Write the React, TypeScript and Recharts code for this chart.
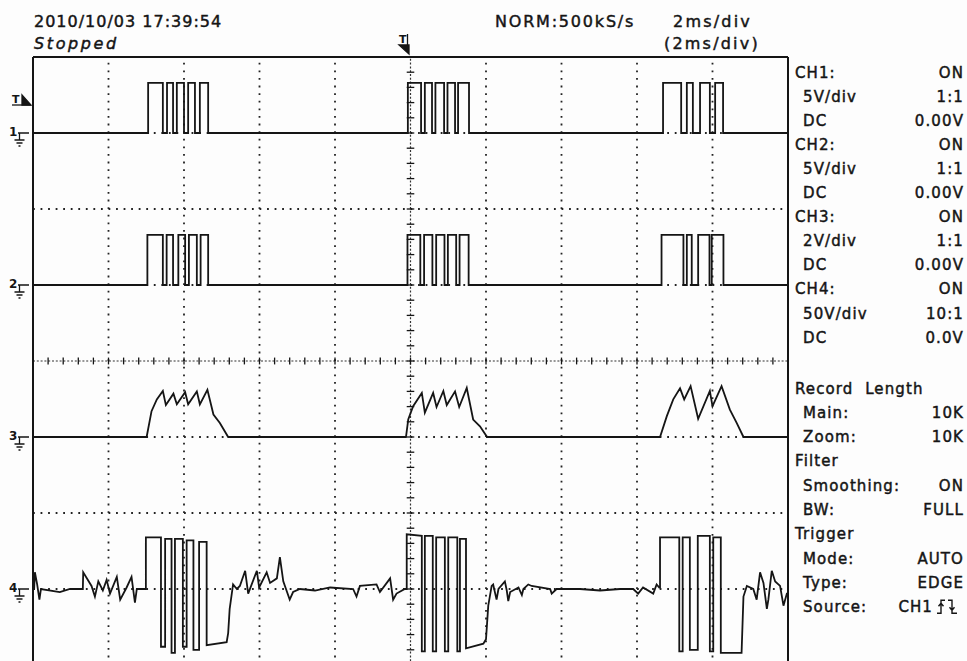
import { LineChart, Line, XAxis, YAxis, ReferenceLine } from "recharts";

// time in ms (2 ms/div, trigger at 0), level in volts
const ch1Trace: [number, number][] = [
  [-10, 0],
  [-6.95, 3.3], [-6.56, 0], [-6.45, 3.3], [-6.29, 0], [-6.19, 3.3], [-6.0, 0], [-5.89, 3.3], [-5.71, 0], [-5.58, 3.3], [-5.36, 0],
  [-0.07, 3.3], [0.28, 0], [0.38, 3.3], [0.57, 0], [0.66, 3.3], [0.89, 0], [0.98, 3.3], [1.18, 0], [1.26, 3.3], [1.55, 0],
  [6.69, 3.3], [7.17, 0], [7.32, 3.3], [7.48, 0], [7.67, 3.3], [7.93, 0], [8.07, 3.3], [8.28, 0],
  [10, 0],
];

const ch2Trace: [number, number][] = [
  [-10, 0],
  [-6.97, 3.3], [-6.56, 0], [-6.46, 3.3], [-6.29, 0], [-6.15, 3.3], [-5.97, 0], [-5.87, 3.3], [-5.66, 0], [-5.56, 3.3], [-5.36, 0],
  [-0.08, 3.3], [0.26, 0], [0.36, 3.3], [0.58, 0], [0.68, 3.3], [0.9, 0], [0.99, 3.3], [1.21, 0], [1.3, 3.3], [1.54, 0],
  [6.65, 3.3], [7.23, 0], [7.32, 3.3], [7.45, 0], [7.62, 3.3], [7.92, 0], [7.98, 3.3], [8.29, 0],
  [10, 0],
];

const ch3Trace: [number, number][] = [
  [-10, 0], [-6.99, 0], [-6.86, 0.68], [-6.72, 0.99], [-6.56, 1.21], [-6.48, 0.84], [-6.28, 1.14], [-6.19, 0.86],
  [-5.97, 1.18], [-5.89, 0.86], [-5.66, 1.2], [-5.58, 0.86], [-5.38, 1.24], [-5.22, 0.59], [-5.05, 0.37], [-4.83, 0],
  [-0.12, 0], [-0.06, 0.46], [0.07, 0.81], [0.3, 1.16], [0.38, 0.64], [0.6, 1.16], [0.69, 0.79], [0.87, 1.21],
  [0.96, 0.84], [1.18, 1.2], [1.29, 0.79], [1.49, 1.29], [1.66, 0.46], [1.84, 0.28], [2.03, 0],
  [6.61, 0], [6.79, 0.55], [6.96, 0.99], [7.14, 1.28], [7.25, 0.99], [7.42, 1.34], [7.62, 0.48], [7.93, 1.21],
  [8.0, 0.81], [8.24, 1.34], [8.46, 0.72], [8.64, 0.37], [8.82, 0],
  [10, 0],
];

const ch4Trace: [number, number][] = [
  [-10, 0], [-9.97, 0], [-9.95, 11], [-9.89, 3], [-9.83, -7], [-9.79, 0], [-9.29, -2], [-9.02, 0],
  [-8.68, 0], [-8.67, 11], [-8.45, 2], [-8.36, -5], [-8.27, 5], [-8.15, -1], [-8.05, 6], [-7.96, -3],
  [-7.78, 8], [-7.69, -7], [-7.52, 1], [-7.39, 8], [-7.3, -9], [-7.25, 0], [-7.01, 0],
  [-7.01, 34], [-6.61, 34], [-6.61, -38], [-6.5, -38], [-6.5, 33], [-6.33, 33], [-6.33, -42],
  [-6.24, -42], [-6.24, 33], [-6.03, 33], [-6.03, -38], [-5.93, -38], [-5.93, 32], [-5.75, 32],
  [-5.75, -40], [-5.6, -40], [-5.6, 31], [-5.4, 31], [-5.4, -37], [-4.87, -35],
  [-4.83, -29], [-4.79, -13], [-4.7, 3], [-4.6, 0], [-4.52, 2], [-4.38, 12], [-4.3, -3],
  [-4.07, 12], [-4.01, 1], [-3.81, 11], [-3.72, 4], [-3.54, 7], [-3.46, 21], [-3.37, 5],
  [-3.2, -7], [-3.11, -2], [-2.93, 0], [-2.53, -1], [-2.13, 1], [-1.52, 0], [-1.43, -5],
  [-1.34, 2], [-0.9, 3], [-0.81, -2], [-0.54, 7], [-0.46, -7], [-0.37, -3], [-0.15, 0],
  [-0.1, 0], [-0.1, 36], [0.3, 35], [0.3, -41], [0.38, -41], [0.38, 35], [0.59, 35], [0.59, -41],
  [0.68, -41], [0.68, 34], [0.91, 34], [0.91, -41], [1.0, -41], [1.0, 34], [1.24, 34], [1.24, -41],
  [1.31, -41], [1.31, 33], [1.47, 33], [1.47, -39], [1.93, -36], [2.0, -33], [2.06, -11],
  [2.15, 2], [2.19, 3], [2.28, -7], [2.33, 0], [2.5, 5], [2.55, -1], [2.59, -8], [2.64, -2],
  [2.86, 1], [2.95, -4], [2.99, 0], [3.12, 3], [3.21, 2], [3.7, 0], [3.74, -3], [3.87, 0],
  [4.49, 0], [5.02, -1], [5.55, 0], [5.9, 0], [6.03, -3], [6.16, 1], [6.43, -3], [6.52, 3], [6.59, 1],
  [6.61, 1], [6.61, 34], [7.12, 34], [7.12, -41], [7.21, -41], [7.21, 34], [7.4, 34], [7.4, -40],
  [7.61, -40], [7.61, 35], [7.93, 35], [7.93, -41], [8.02, -41], [8.02, 34], [8.22, 34], [8.22, -42],
  [8.77, -42], [8.82, -5], [8.91, 2], [9.08, 0], [9.17, -7], [9.26, 11], [9.35, 4], [9.44, -13],
  [9.48, -7], [9.57, 12], [9.66, 5], [9.79, 2], [9.88, -11], [9.97, -3], [10, -3],
];

const channels = [
  { id: "ch1", label: "1", voltsPerDiv: 5, groundDiv: 7, trace: ch1Trace, curve: "stepAfter" },
  { id: "ch2", label: "2", voltsPerDiv: 5, groundDiv: 5, trace: ch2Trace, curve: "stepAfter" },
  { id: "ch3", label: "3", voltsPerDiv: 2, groundDiv: 3, trace: ch3Trace, curve: "linear" },
  { id: "ch4", label: "4", voltsPerDiv: 50, groundDiv: 1, trace: ch4Trace, curve: "linear" },
];

const gridTimes = [-8, -6, -4, -2, 2, 4, 6, 8];
const gridDivs = [1, 2, 3, 5, 6, 7];

const headerDate = "2010/10/03 17:39:54";
const headerState = "Stopped";
const headerRate = "NORM:500kS/s";
const headerScale = "2ms/div";
const headerZoom = "(2ms/div)";

const channelSetup = [
  { label: "CH1:", value: "ON", indent: false },
  { label: "5V/div", value: "1:1", indent: true },
  { label: "DC", value: "0.00V", indent: true },
  { label: "CH2:", value: "ON", indent: false },
  { label: "5V/div", value: "1:1", indent: true },
  { label: "DC", value: "0.00V", indent: true },
  { label: "CH3:", value: "ON", indent: false },
  { label: "2V/div", value: "1:1", indent: true },
  { label: "DC", value: "0.00V", indent: true },
  { label: "CH4:", value: "ON", indent: false },
  { label: "50V/div", value: "10:1", indent: true },
  { label: "DC", value: "0.0V", indent: true },
];

const acquisitionSetup = [
  { label: "Record  Length", value: "", indent: false },
  { label: "Main:", value: "10K", indent: true },
  { label: "Zoom:", value: "10K", indent: true },
  { label: "Filter", value: "", indent: false },
  { label: "Smoothing:", value: "ON", indent: true },
  { label: "BW:", value: "FULL", indent: true },
  { label: "Trigger", value: "", indent: false },
  { label: "Mode:", value: "AUTO", indent: true },
  { label: "Type:", value: "EDGE", indent: true },
  { label: "Source:", value: "CH1", indent: true },
];

const INK = "#151515";
const PLOT_TOP = 57;
const DIV_PX = 76;

const toPoints = (trace: [number, number][]) => trace.map(([t, v]) => ({ t, v }));

function GroundMark({ label, y }: { label: string; y: number }) {
  return (
    <g stroke={INK} strokeWidth={1.3} fill="none">
      <text x={9} y={y + 3} fontSize={12} fontWeight="bold" fill={INK} stroke="none">{label}</text>
      <path d={`M18,${y} H29 M19.5,${y} V${y + 7} M14.5,${y + 7} H24.5 M16.5,${y + 10} H22.5 M18.5,${y + 13} H20.5`} />
    </g>
  );
}

function SetupRows({ rows, startY, step }: { rows: typeof channelSetup; startY: number; step: number }) {
  return (
    <g fill={INK} stroke={INK} strokeWidth={0.45} fontSize={15} style={{ letterSpacing: 1.1 }}>
      {rows.map((r, i) => {
        const y = startY + i * step + 5.5;
        return (
          <g key={i}>
            <text x={r.indent ? 803 : 795} y={y} style={{ whiteSpace: "pre" }}>{r.label}</text>
            {r.value && r.label !== "Source:" && (
              <text x={964} y={y} textAnchor="end">{r.value}</text>
            )}
            {r.label === "Source:" && (
              <g>
                <text x={933} y={y} textAnchor="end">{r.value}</text>
                <path
                  d={`M937,${y + 1} H941 V${y - 12} H945 M941,${y - 9} l-2.5,3 M941,${y - 9} l2.5,3 M948,${y - 12} H952 V${y + 1} H957 M952,${y - 2} l-2.5,-3 M952,${y - 2} l2.5,-3`}
                  stroke={INK}
                  strokeWidth={1.4}
                  fill="none"
                />
              </g>
            )}
          </g>
        );
      })}
    </g>
  );
}

export default function App() {
  const hTicks = Array.from({ length: 51 }, (_, k) => -10 + k * 0.4);
  const vTicks = Array.from({ length: 41 }, (_, k) => k * 0.2);
  return (
    <div
      style={{
        position: "absolute",
        left: 0,
        top: 0,
        width: 967,
        height: 661,
        overflow: "hidden",
        background: "#fdfdfd",
        fontFamily: "'DejaVu Sans', sans-serif",
      }}
    >
      <LineChart width={967} height={700} margin={{ top: 57, right: 179, bottom: 35, left: 33 }}>
        <XAxis type="number" dataKey="t" domain={[-10, 10]} allowDataOverflow hide />
        <YAxis yAxisId="div" type="number" domain={[0, 8]} allowDataOverflow hide />
        {channels.map((c) => (
          <YAxis
            key={c.id}
            yAxisId={c.id}
            type="number"
            domain={[-c.groundDiv * c.voltsPerDiv, (8 - c.groundDiv) * c.voltsPerDiv]}
            allowDataOverflow
            hide
          />
        ))}

        {gridTimes.map((t) => (
          <ReferenceLine key={"gx" + t} yAxisId="div" x={t} stroke="#222" strokeWidth={1.8} strokeDasharray="1.8 5.8" />
        ))}
        {gridDivs.map((d) => (
          <ReferenceLine key={"gy" + d} yAxisId="div" y={d} stroke="#222" strokeWidth={1.8} strokeDasharray="1.8 5.75" />
        ))}
        <ReferenceLine yAxisId="div" x={0} stroke="#333" strokeWidth={1.2} strokeDasharray="2 1.8" />
        <ReferenceLine yAxisId="div" y={4} stroke="#333" strokeWidth={1.2} strokeDasharray="2 1.8" />
        {hTicks.map((t) => (
          <ReferenceLine
            key={"ht" + t}
            yAxisId="div"
            segment={[{ x: t, y: 3.955 }, { x: t, y: 4.045 }]}
            stroke={INK}
            strokeWidth={1.3}
          />
        ))}
        {vTicks.map((d) => (
          <ReferenceLine
            key={"vt" + d}
            yAxisId="div"
            segment={[{ x: -0.1, y: d }, { x: 0.1, y: d }]}
            stroke={INK}
            strokeWidth={1.3}
          />
        ))}

        {channels.map((c) => (
          <Line
            key={c.id}
            yAxisId={c.id}
            data={toPoints(c.trace)}
            dataKey="v"
            type={c.curve as any}
            stroke={INK}
            strokeWidth={1.8}
            dot={false}
            activeDot={false}
            isAnimationActive={false}
          />
        ))}

        <ReferenceLine yAxisId="div" x={-10} stroke={INK} strokeWidth={2} />
        <ReferenceLine yAxisId="div" x={10} stroke={INK} strokeWidth={2} />
        <ReferenceLine yAxisId="div" y={8} stroke={INK} strokeWidth={2} />
      </LineChart>

      <svg
        width={967}
        height={661}
        style={{ position: "absolute", left: 0, top: 0, pointerEvents: "none" }}
        fontFamily="'DejaVu Sans', sans-serif"
      >
        <g fill={INK} stroke={INK} strokeWidth={0.45} fontSize={16}>
          <text x={34} y={27} style={{ letterSpacing: 1 }}>{headerDate}</text>
          <text x={34} y={49} fontStyle="italic" style={{ letterSpacing: 2.6 }}>{headerState}</text>
          <text x={495} y={27} style={{ letterSpacing: 1.8 }}>{headerRate}</text>
          <text x={673} y={27} style={{ letterSpacing: 2.2 }}>{headerScale}</text>
          <text x={664} y={49} style={{ letterSpacing: 2.2 }}>{headerZoom}</text>
        </g>

        {/* trigger position marker */}
        <g stroke={INK} strokeWidth={1.3} fill={INK}>
          <text x={399} y={43} fontSize={11} fontWeight="bold" stroke="none">T</text>
          <line x1={407.5} y1={34} x2={407.5} y2={52} />
          <path d="M399,45 H409 V54 Z" />
        </g>

        {/* trigger level marker */}
        <g stroke={INK} strokeWidth={1.3} fill={INK}>
          <text x={12} y={103} fontSize={11} fontWeight="bold" stroke="none">T</text>
          <line x1={12} y1={105} x2={31} y2={105} />
          <path d="M22,95 V105 H31 Z" />
        </g>

        {channels.map((c) => (
          <GroundMark key={c.id} label={c.label} y={PLOT_TOP + (8 - c.groundDiv) * DIV_PX} />
        ))}

        <SetupRows rows={channelSetup} startY={72} step={24.1} />
        <SetupRows rows={acquisitionSetup} startY={388} step={24.3} />
      </svg>
    </div>
  );
}
